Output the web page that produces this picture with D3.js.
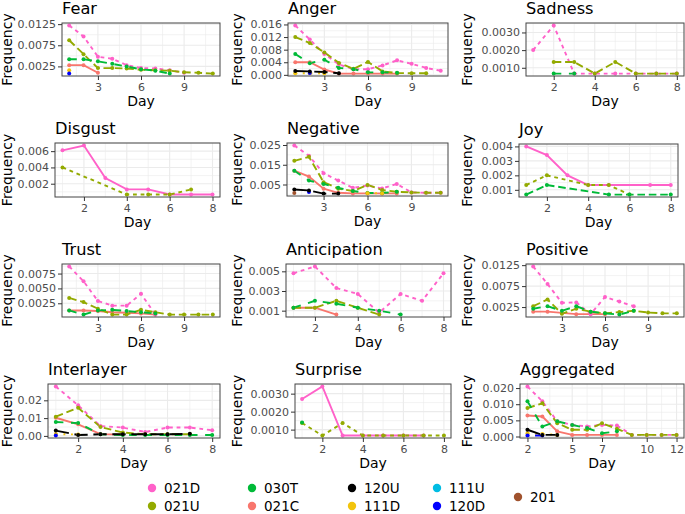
<!DOCTYPE html>
<html><head><meta charset="utf-8">
<script src="https://cdn.jsdelivr.net/npm/d3@7"></script>
<style>
body{margin:0;background:#fff}
svg{display:block}
text{font-family:"DejaVu Sans",Verdana,sans-serif}
</style>
</head><body>
<svg id="c" width="685" height="514"></svg>
<script>
// ---------- series ----------
const seriesCodes = ["021C","021D","021U","030T","111D","111U","120D","120U","201"];
const seriesColors = ["#F8766D","#FF61C9","#93AA00","#00BA38","#F2C40C","#00BCE3","#0000FF","#000000","#A0522D"];
const legendColumns = [["021D","021U"],["030T","021C"],["120U","111D"],["111U","120D"],["201"]];
const panelNames = ["Fear","Anger","Sadness","Disgust","Negative","Joy","Trust","Anticipation","Positive","Interlayer","Surprise","Aggregated"];

// ---------- values (index 0 = day 1, null = no value) ----------
const fear = {
  "021C": [0.0028, 0.0028, 0.0010],
  "021D": [0.0122, 0.0096, 0.0048, 0.0043, 0.0028, 0.0021, 0.0020, 0.0016, 0.0010],
  "021U": [0.0087, 0.0054, 0.0021, 0.0021, 0.0020, 0.0017, 0.0016, 0.0015, 0.0011, 0.0010, 0.0008],
  "030T": [0.0042, 0.0042, 0.0037, 0.0031, 0.0025, 0.0018, 0.0015, 0.0008],
  "111D": [0.0016],
  "120D": [0.0008]
};
const anger = {
  "021C": [0.0040, 0.0040, 0.0017, 0.0004, 0.0004, 0.0004, 0.0004, 0.0004],
  "021D": [0.0157, 0.0112, 0.0066, 0.0033, 0.0018, 0.0018, 0.0030, 0.0046, 0.0035, 0.0022, 0.0013],
  "021U": [0.0120, 0.0101, 0.0071, 0.0038, 0.0019, 0.0041, 0.0011, 0.0006, 0.0005, 0.0005],
  "030T": [0.0066, 0.0037, 0.0048, 0.0022, 0.0018, 0.0008, 0.0008, 0.0007],
  "111D": [0.0005, 0.0005, 0.0005],
  "120D": [null, 0.0006],
  "120U": [0.0012, 0.0011, 0.0009, 0.0005]
};
const sadness = {
  "021D": [0.0020, 0.0034, 0.00067, 0.00067, 0.00067, 0.00067, 0.00067, 0.00067],
  "021U": [null, 0.00133, 0.00133, 0.00067, 0.00133, 0.00067, 0.00067, 0.00067],
  "030T": [null, 0.00067, 0.00067]
};
const disgust = {
  "021D": [0.0061, 0.0067, 0.0027, 0.0013, 0.0013, 0.00067, 0.00067, 0.00067],
  "021U": [0.0040, null, null, 0.00067, 0.00067, 0.00067, 0.0013]
};
const negative = {
  "021C": [0.0120, 0.0090, 0.0029, 0.0008, 0.0005, 0.0005, 0.0005, 0.0005],
  "021D": [0.0248, 0.0195, 0.0107, 0.0070, 0.0033, 0.0045, 0.0030, 0.0053, 0.0010, 0.0008, 0.0008],
  "021U": [0.0170, 0.0190, 0.0062, 0.0029, 0.0017, 0.0048, 0.0022, 0.0013, 0.0010, 0.0008, 0.0008],
  "030T": [0.0120, 0.0070, 0.0053, 0.0033, 0.0017, 0.0007, 0.0007, 0.0013],
  "111D": [null, null, null, null, null, 0.0006, 0.0006],
  "120D": [null, 0.0012],
  "120U": [0.0025, 0.0020, 0.0004, 0.0004],
  "201":  [0.0007]
};
const joy = {
  "021D": [0.0040, 0.0034, 0.0020, 0.00133, 0.00133, null, 0.00133, 0.00133],
  "021U": [0.00133, 0.0020, null, 0.00133, 0.00133, 0.00067],
  "030T": [0.00067, 0.00133, null, null, 0.00067, 0.00067, null, 0.00067]
};
const trust = {
  "021C": [0.0013, 0.0013, 0.0012, 0.0010, 0.0009, 0.0008, 0.0006],
  "021D": [0.0087, 0.0062, 0.0029, 0.0021, 0.0021, 0.0041, 0.0006],
  "021U": [0.0034, 0.0027, 0.0016, 0.0006, 0.0006, 0.0014, 0.0010, 0.0006, 0.0006, 0.0006, 0.0006],
  "030T": [0.0013, 0.0006, 0.0013, 0.0014, 0.0012, 0.0010, 0.0008]
};
const anticipation = {
  "021C": [0.0013, 0.0013, 0.0006],
  "021D": [0.0048, 0.0055, 0.0033, 0.0027, 0.0008, 0.0027, 0.0020, 0.0048],
  "021U": [0.0013, 0.0013, 0.0020, 0.0013, 0.0006],
  "030T": [0.0013, 0.0020, 0.0017, 0.0013, 0.0010, 0.0006]
};
const positive = {
  "021C": [0.0014, 0.0014, 0.0011, 0.0008, 0.0008, 0.0008],
  "021D": [0.0122, 0.0080, 0.0035, 0.0036, 0.0008, 0.0049, 0.0038, 0.0027],
  "021U": [0.0027, 0.0043, 0.0009, 0.0021, 0.0014, 0.0010, 0.0013, 0.0016, 0.0012, 0.0010, 0.0010],
  "030T": [0.0021, 0.0027, 0.0016, 0.0027, 0.0014, 0.0010, 0.0007, 0.0016]
};
const interlayer = {
  "021C": [0.0102, 0.0065, 0.0010, 0.0008],
  "021D": [0.0278, 0.0172, 0.0055, 0.0047, 0.0022, 0.0047, 0.0047, 0.0032],
  "021U": [0.0108, 0.0158, 0.0050, 0.0019, 0.0009, 0.0009, 0.0009],
  "030T": [0.0078, 0.0072, 0.0009, 0.0005, 0.0005, 0.0005, 0.0005, 0.0005],
  "111D": [0.0010, 0.0008],
  "120D": [0.0002],
  "120U": [0.0030, 0.0005, 0.0009, 0.0009, 0.0009, 0.0009, 0.0012]
};
const surprise = {
  "021D": [0.0027, 0.0034, 0.00067, 0.00067, 0.00067, 0.00067, 0.00067],
  "021U": [0.00137, 0.00067, 0.00137, 0.00067, 0.00067, 0.00067, 0.00067, 0.00067],
  "030T": [0.0014]
};
const aggregated = {
  "021C": [null, 0.0065, 0.0062, 0.0016, 0.0005, 0.0005, 0.0005, 0.0005],
  "021D": [null, 0.0155, 0.0109, 0.0047, 0.0036, 0.0031, 0.0036, 0.0034, 0.0005, 0.0005, 0.0005, 0.0005],
  "021U": [null, 0.0088, 0.0103, 0.0041, 0.0021, 0.0021, 0.0041, 0.0024, 0.0005, 0.0005, 0.0005, 0.0005],
  "030T": [null, 0.0109, 0.0031, 0.0047, 0.0036, 0.0026, 0.0010, 0.0016],
  "111D": [null, 0.0010, 0.0008, 0.0005],
  "120D": [null, 0.0003, 0.0003],
  "120U": [null, 0.0021, 0.0005, 0.0005]
};
const panelData = [fear, anger, sadness, disgust, negative, joy, trust, anticipation, positive, interlayer, surprise, aggregated];

// ---------- tick labels ----------
const xTicks369 = [3, 6, 9];
const xTicks2468 = [2, 4, 6, 8];
const xTicksAgg = [2, 5, 7, 10, 12];
const yTicksFear = ["0.0025", "0.0075", "0.0125"];
const yTicksAnger = ["0.000", "0.004", "0.008", "0.012", "0.016"];
const yTicksSadness = ["0.0010", "0.0020", "0.0030"];
const yTicksDisgust = ["0.002", "0.004", "0.006"];
const yTicksNegative = ["0.005", "0.015", "0.025"];
const yTicksJoy = ["0.001", "0.002", "0.003", "0.004"];
const yTicksTrust = ["0.0025", "0.0050", "0.0075"];
const yTicksAnticipation = ["0.001", "0.003", "0.005"];
const yTicksPositive = ["0.0025", "0.0075", "0.0125"];
const yTicksInterlayer = ["0.00", "0.01", "0.02"];
const yTicksSurprise = ["0.0010", "0.0020", "0.0030"];
const yTickValuesAgg = [0, 0.005, 0.010, 0.015];
const yTicksAgg = ["0.000", "0.005", "0.010", "0.020"];

// ---------- layout (pixel boxes: left, right, top, bottom) ----------
const layout = [
  {box:[62,220,23,76],  xt:xTicks369,  yl:yTicksFear,   col:0},
  {box:[288,448,23,76], xt:xTicks369,  yl:yTicksAnger,  col:1},
  {box:[526,684,23,76], xt:xTicks2468, yl:yTicksSadness, col:2, ltOffset:1},
  {box:[55,220,143,197], xt:xTicks2468, yl:yTicksDisgust, col:0},
  {box:[287,448,143,196], xt:xTicks369, yl:yTicksNegative, col:1},
  {box:[519,678,144,197], xt:xTicks2468, yl:yTicksJoy, col:2},
  {box:[62,220,264,317], xt:xTicks369, yl:yTicksTrust, col:0},
  {box:[286,451,264,317], xt:xTicks2468, yl:yTicksAnticipation, col:1},
  {box:[526,684,264,317], xt:xTicks369, yl:yTicksPositive, col:2},
  {box:[48,220,384,438], xt:xTicks2468, yl:yTicksInterlayer, col:0},
  {box:[295,451,384,438], xt:xTicks2468, yl:yTicksSurprise, col:1},
  {box:[520,684,384,438], xt:xTicksAgg, yl:yTicksAgg, yv:yTickValuesAgg, col:2}
];
const freqLabelX = [8.5, 238.5, 468.5];

const svg = d3.select("#c");
svg.append("rect").attr("width",685).attr("height",514).attr("fill","#fff");

const LWD = 1.9;
const dashPatterns = [null, "22", "42", "44", "13", "1343", "73", "2262"];
function dashFor(i){
  const p = dashPatterns[i % dashPatterns.length];
  if(!p) return null;
  return p.split("").map(ch => parseInt(ch,16)*LWD).join(",");
}
function minorBreaks(t, dom){
  const ext = [t[0]-(t[1]-t[0]), ...t, t[t.length-1]+(t[t.length-1]-t[t.length-2])];
  const m = [];
  for(let i=0;i<ext.length-1;i++) m.push((ext[i]+ext[i+1])/2);
  return m.filter(v => v>=dom[0] && v<=dom[1]);
}

panelNames.forEach((name, pi) => {
  const L = layout[pi];
  const [x0,x1,y0,y1] = L.box;
  const data = panelData[pi];
  const codes = seriesCodes.filter(c => data[c]);
  const series = codes.map((c, li) => ({
    code: c,
    color: seriesColors[seriesCodes.indexOf(c)],
    lt: li + (L.ltOffset || 0),
    values: data[c].map((v,i) => ({day:i+1, v:v})).filter(d => d.v != null)
  }));
  const all = series.flatMap(s => s.values);
  const xe = d3.extent(all, d => d.day), ye = d3.extent(all, d => d.v);
  const xr = xe[1]-xe[0], yr = ye[1]-ye[0];
  const x = d3.scaleLinear().domain([xe[0]-0.05*xr, xe[1]+0.05*xr]).range([x0,x1]);
  const y = d3.scaleLinear().domain([ye[0]-0.05*yr, ye[1]+0.05*yr]).range([y1,y0]);
  const yVals = L.yv || L.yl.map(Number);

  const g = svg.append("g");
  // grid
  const grid = g.append("g");
  minorBreaks(L.xt, x.domain()).forEach(v => grid.append("line")
    .attr("x1",x(v)).attr("x2",x(v)).attr("y1",y0).attr("y2",y1)
    .attr("stroke","#EBEBEB").attr("stroke-width",0.6));
  minorBreaks(yVals, y.domain()).forEach(v => grid.append("line")
    .attr("y1",y(v)).attr("y2",y(v)).attr("x1",x0).attr("x2",x1)
    .attr("stroke","#EBEBEB").attr("stroke-width",0.6));
  L.xt.forEach(v => grid.append("line")
    .attr("x1",x(v)).attr("x2",x(v)).attr("y1",y0).attr("y2",y1)
    .attr("stroke","#EBEBEB").attr("stroke-width",1.1));
  yVals.forEach(v => grid.append("line")
    .attr("y1",y(v)).attr("y2",y(v)).attr("x1",x0).attr("x2",x1)
    .attr("stroke","#EBEBEB").attr("stroke-width",1.1));

  // lines
  const line = d3.line().x(d => x(d.day)).y(d => y(d.v));
  series.forEach(s => {
    if(s.values.length < 2) return;
    g.append("path").datum(s.values).attr("d", line)
      .attr("fill","none").attr("stroke", s.color).attr("stroke-width", LWD)
      .attr("stroke-dasharray", dashFor(s.lt));
  });
  // points
  series.forEach(s => {
    g.selectAll(null).data(s.values).enter().append("circle")
      .attr("cx", d => x(d.day)).attr("cy", d => y(d.v)).attr("r", 2)
      .attr("fill", s.color);
  });

  // border
  g.append("rect").attr("x",x0).attr("y",y0).attr("width",x1-x0).attr("height",y1-y0)
    .attr("fill","none").attr("stroke","#444").attr("stroke-width",1);

  // axes
  const xa = g.append("g").attr("transform",`translate(0,${y1})`)
    .call(d3.axisBottom(x).tickValues(L.xt).tickFormat(d3.format("d")).tickSizeInner(4).tickSizeOuter(0).tickPadding(3));
  const ya = g.append("g").attr("transform",`translate(${x0},0)`)
    .call(d3.axisLeft(y).tickValues(yVals).tickFormat((d,i) => L.yl[i]).tickSizeInner(4).tickSizeOuter(0).tickPadding(2));
  [xa, ya].forEach(a => {
    a.select(".domain").remove();
    a.selectAll(".tick line").attr("stroke","#333");
    a.selectAll(".tick text").attr("fill","#4D4D4D").style("font-size","11px")
      .style("font-family","'DejaVu Sans',sans-serif");
  });

  // titles
  g.append("text").attr("x", x0).attr("y", y0-8.8).text(name)
    .attr("fill","#000").style("font-size","16.2px");
  g.append("text").attr("x", (x0+x1)/2).attr("y", y1+29.5).attr("text-anchor","middle")
    .text("Day").attr("fill","#000").style("font-size","14px");
  g.append("text").attr("transform",`translate(${freqLabelX[L.col]},${(y0+y1)/2}) rotate(-90)`)
    .attr("text-anchor","middle").attr("dy","0.25em")
    .text("Frequency").attr("fill","#000").style("font-size","14px");
});

// ---------- legend ----------
const legX = [152, 252, 352, 437, 518];
const legY = [488, 506];
const leg = svg.append("g");
legendColumns.forEach((col, ci) => {
  col.forEach((code, ri) => {
    const cy = col.length === 1 ? (legY[0]+legY[1])/2 : legY[ri];
    leg.append("circle").attr("cx", legX[ci]).attr("cy", cy).attr("r", 4.2)
      .attr("fill", seriesColors[seriesCodes.indexOf(code)]);
    leg.append("text").attr("x", legX[ci]+12).attr("y", cy).attr("dy","0.36em")
      .text(code).attr("fill","#000").style("font-size","13.5px");
  });
});
</script>
</body></html>
